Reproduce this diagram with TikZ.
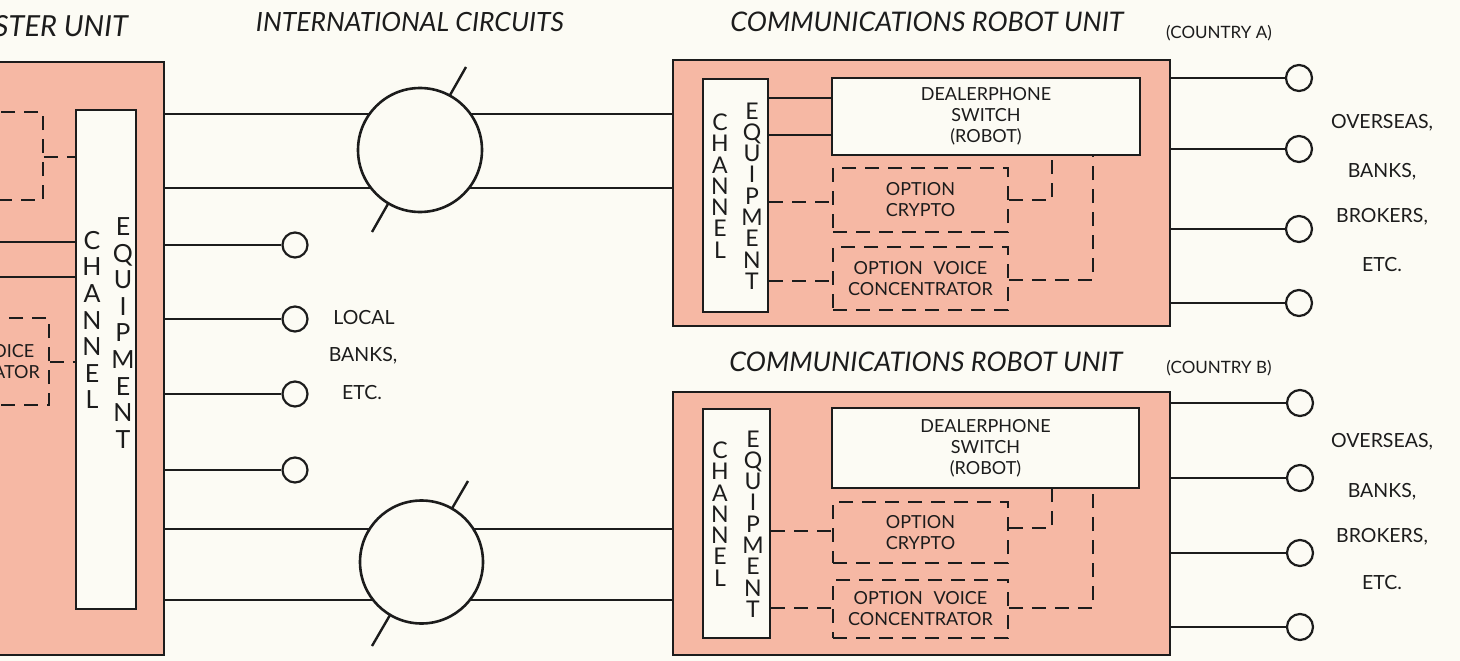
\documentclass[tikz,border=0pt]{standalone}
\usepackage{fontspec}
\setmainfont{Lato}
\definecolor{paper}{RGB}{252,251,244}
\definecolor{pinkfill}{RGB}{246,184,164}
\definecolor{ink}{RGB}{28,28,28}
\begin{document}
\begin{tikzpicture}[x=1pt,y=-1pt,
  outerbox/.style={draw=ink, line width=2.8pt, fill=pinkfill, inner sep=0pt},
  innerbox/.style={draw=ink, line width=2.4pt, fill=paper, inner sep=0pt},
  optbox/.style={draw=ink, line width=1.8pt, dash pattern=on 14pt off 9pt, inner sep=0pt},
  wire/.style={draw=ink, line width=1.8pt},
  dwire/.style={wire, dash pattern=on 14pt off 9pt},
  slash/.style={draw=ink, line width=2.4pt},
  bigring/.style={circle, draw=ink, line width=2.6pt, fill=paper, minimum size=124pt, inner sep=0pt},
  termc/.style={circle, draw=ink, line width=2.2pt, fill=paper, minimum size=25pt, inner sep=0pt},
  boxtext/.style={font=\fontsize{18}{21}\selectfont, align=center, text=ink},
  vert/.style={font=\fontsize{23}{21.3}\selectfont, align=center, text=ink, inner sep=0pt},
  mvert/.style={font=\fontsize{25}{26.6}\selectfont, align=center, text=ink, inner sep=0pt},
  ttl/.style={font=\itshape\fontsize{27}{30}\selectfont, text=ink, inner sep=0pt},
  ctext/.style={font=\fontsize{17}{19}\selectfont, text=ink, inner sep=0pt},
  sidetext/.style={font=\fontsize{19.5}{22}\selectfont, text=ink, inner sep=0pt}
]
\useasboundingbox (0,0) rectangle (1460,661);
\clip (0,0) rectangle (1460,661);
\fill[paper] (0,0) rectangle (1460,661);

% ---------- titles ----------
\node[ttl, anchor=east, font=\itshape\fontsize{29}{32}\selectfont] (tmaster) at (128,26) {MASTER UNIT};
\node[ttl, font=\itshape\fontsize{26.5}{30}\selectfont] (tintl) at (410,22) {INTERNATIONAL CIRCUITS};
\node[ttl] (trobA) at (927,22) {COMMUNICATIONS ROBOT UNIT};
\node[ctext] (cntA) at (1219,33) {(COUNTRY A)};
\node[ttl] (trobB) at (926,362) {COMMUNICATIONS ROBOT UNIT};
\node[ctext] (cntB) at (1219,368) {(COUNTRY B)};

% ---------- master unit ----------
\node[outerbox, minimum width=204pt, minimum height=593pt] (master) at (62,358.5) {};
\node[innerbox, minimum width=60pt, minimum height=499pt] (mchan) at (106,359.5) {};
\node[mvert] (mchanc) at (92,320) {C\\H\\A\\N\\N\\E\\L};
\node[mvert] (mchane) at (123,333) {E\\Q\\U\\I\\P\\M\\E\\N\\T};
\node[optbox, boxtext, minimum width=160pt, minimum height=88pt] (mcrypto) at (-37,156) {OPTION\\CRYPTO};
\node[optbox, boxtext, minimum width=163pt, minimum height=87pt] (mvoice) at (-32.5,361.5) {OPTION\hspace{0.6em}VOICE\\CONCENTRATOR};
\draw[dwire] (mcrypto.east |- 0,157) -- (mchan.west |- 0,157);
\draw[dwire] (mvoice.east |- 0,362) -- (mchan.west |- 0,362);
\coordinate (mleft1) at (-5,242);
\coordinate (mleft2) at (-5,277);
\draw[wire] (mleft1) -- (mchan.west |- mleft1);
\draw[wire] (mleft2) -- (mchan.west |- mleft2);

% ---------- robot unit A ----------
\node[outerbox, minimum width=497pt, minimum height=266pt] (rA) at (921.5,193) {};
\node[innerbox, minimum width=65pt, minimum height=233pt] (chanA) at (735.5,195.5) {};
\node[vert] (chanAc) at (720,186) {C\\H\\A\\N\\N\\E\\L};
\node[vert] (chanAe) at (752,196) {E\\Q\\U\\I\\P\\M\\E\\N\\T};
\node[innerbox, boxtext, minimum width=308pt, minimum height=77pt] (dealA) at (986,116.5) {DEALERPHONE\\SWITCH\\(ROBOT)};
\node[optbox, boxtext, minimum width=175pt, minimum height=64pt] (cryptoA) at (920.5,200) {OPTION\\CRYPTO};
\node[optbox, boxtext, minimum width=175pt, minimum height=63pt] (voiceA) at (920.5,278.5) {OPTION\hspace{0.6em}VOICE\\CONCENTRATOR};
\draw[wire] (chanA.east |- 0,98) -- (dealA.west |- 0,98);
\draw[wire] (chanA.east |- 0,135) -- (dealA.west |- 0,135);
\draw[dwire] (chanA.east |- 0,202) -- (cryptoA.west |- 0,202);
\draw[dwire] (chanA.east |- 0,281) -- (voiceA.west |- 0,281);
\draw[dwire] (cryptoA.east |- 0,200) -| (dealA.south -| 1052,0);
\draw[dwire] (voiceA.east |- 0,280) -| (dealA.south -| 1093,0);

% ---------- robot unit B ----------
\node[outerbox, minimum width=497pt, minimum height=263pt] (rB) at (921.5,523.5) {};
\node[innerbox, minimum width=67pt, minimum height=229pt] (chanB) at (736.5,523.5) {};
\node[vert] (chanBc) at (720,514) {C\\H\\A\\N\\N\\E\\L};
\node[vert] (chanBe) at (753,524) {E\\Q\\U\\I\\P\\M\\E\\N\\T};
\node[innerbox, boxtext, minimum width=307pt, minimum height=80pt] (dealB) at (985.5,448) {DEALERPHONE\\SWITCH\\(ROBOT)};
\node[optbox, boxtext, minimum width=175pt, minimum height=61pt] (cryptoB) at (920.5,532.5) {OPTION\\CRYPTO};
\node[optbox, boxtext, minimum width=175pt, minimum height=58pt] (voiceB) at (920.5,609) {OPTION\hspace{0.6em}VOICE\\CONCENTRATOR};
\draw[dwire] (chanB.east |- 0,531) -- (cryptoB.west |- 0,531);
\draw[dwire] (chanB.east |- 0,608) -- (voiceB.west |- 0,608);
\draw[dwire] (cryptoB.east |- 0,528) -| (dealB.south -| 1052,0);
\draw[dwire] (voiceB.east |- 0,608) -| (dealB.south -| 1093,0);

% ---------- international circuits ----------
\coordinate (c1) at (420,150);
\coordinate (c2) at (421.5,562);
\draw[wire] (master.east |- 0,114) -- (rA.west |- 0,114);
\draw[wire] (master.east |- 0,188) -- (rA.west |- 0,188);
\draw[wire] (master.east |- 0,529) -- (rB.west |- 0,529);
\draw[wire] (master.east |- 0,600) -- (rB.west |- 0,600);
\draw[slash] ([shift={(46,-83)}]c1) -- ([shift={(-48,82)}]c1);
\draw[slash] ([shift={(46.5,-81)}]c2) -- ([shift={(-49.5,84)}]c2);
\node[bigring] (ring1) at (c1) {};
\node[bigring, minimum size=123pt] (ring2) at (c2) {};

% ---------- local terminals ----------
\node[termc] (L1) at (295,245) {};
\node[termc] (L2) at (295,319) {};
\node[termc] (L3) at (295,394) {};
\node[termc] (L4) at (295,470) {};
\foreach \t in {L1,L2,L3,L4} \draw[wire] (master.east |- \t) -- (\t.west);
\node[sidetext] (loc1) at (364,318) {LOCAL};
\node[sidetext] (loc2) at (363,356) {BANKS,};
\node[sidetext] (loc3) at (362,393) {ETC.};

% ---------- overseas terminals ----------
\node[termc, minimum size=26pt] (A1) at (1299,78) {};
\node[termc, minimum size=26pt] (A2) at (1299,149) {};
\node[termc, minimum size=26pt] (A3) at (1299,229) {};
\node[termc, minimum size=26pt] (A4) at (1299,303) {};
\foreach \t in {A1,A2,A3,A4} \draw[wire] (rA.east |- \t) -- (\t.west);
\node[sidetext] (oa1) at (1382,123) {OVERSEAS,};
\node[sidetext] (oa2) at (1382,172) {BANKS,};
\node[sidetext] (oa3) at (1382,217) {BROKERS,};
\node[sidetext] (oa4) at (1382,265) {ETC.};

\node[termc, minimum size=26pt] (B1) at (1300,403) {};
\node[termc, minimum size=26pt] (B2) at (1300,478) {};
\node[termc, minimum size=26pt] (B3) at (1300,553) {};
\node[termc, minimum size=26pt] (B4) at (1300,627) {};
\foreach \t in {B1,B2,B3,B4} \draw[wire] (rB.east |- \t) -- (\t.west);
\node[sidetext] (ob1) at (1382,442) {OVERSEAS,};
\node[sidetext] (ob2) at (1382,492) {BANKS,};
\node[sidetext] (ob3) at (1382,537) {BROKERS,};
\node[sidetext] (ob4) at (1382,583) {ETC.};
\end{tikzpicture}
\end{document}
